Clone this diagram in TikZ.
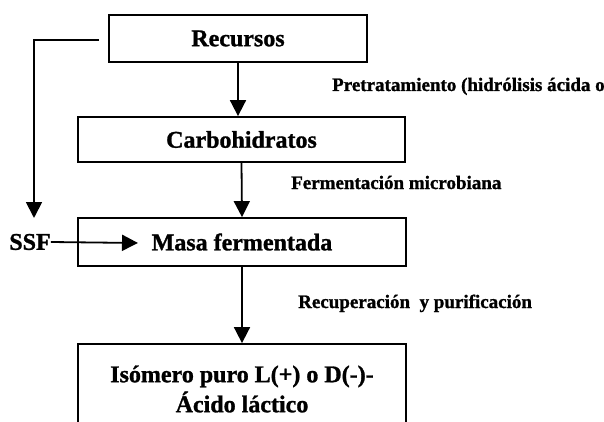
\documentclass[tikz,border=0pt]{standalone}
\usepackage{fontspec}
\setmainfont{Liberation Serif}[BoldFeatures={FakeBold=1.2}]
\usetikzlibrary{arrows.meta}
\tikzset{
  caja/.style={draw, line width=1.8pt, inner sep=0pt, align=center,
    font=\fontsize{24}{30}\selectfont\bfseries},
  flecha/.style={line width=1.8pt, -{Triangle[length=16pt,width=16pt]}},
  etiqueta/.style={inner sep=0pt, anchor=base west,
    font=\fontsize{19}{22}\selectfont\bfseries}
}

\begin{document}
\begin{tikzpicture}[x=1pt,y=-1pt]
\useasboundingbox (0,0) rectangle (604,422);
\clip (0,0) rectangle (604,422);
\node[caja, minimum width=258, minimum height=47] (rec) at (238,38.5) {Recursos};
\node[caja, minimum width=327, minimum height=45] (carb) at (241.5,139.5) {Carbohidratos};
\node[caja, minimum width=328, minimum height=48] (masa) at (242,242) {Masa fermentada};
\node[caja, minimum width=328, minimum height=90] (iso) at (242,389) {Isómero puro L(+) o D(-)-\\Ácido láctico};
\node[inner sep=0pt, font=\fontsize{24}{30}\selectfont\bfseries] (ssf) at (30,242) {SSF};
\coordinate (bajada) at (34,218);
\coordinate (entrada) at (138,243);
\draw[flecha] (rec.south) -- (rec.south |- carb.north);
\draw[flecha] (carb.south) -- (masa.north);
\draw[flecha] (masa.south) -- (iso.north);
\draw[flecha] ([xshift=-9pt,yshift=-1.5pt]rec.west) -| (bajada);
\draw[flecha] (ssf.east) -- (entrada);
\node[etiqueta] (pret) at (332,91) {Pretratamiento (hidrólisis ácida o};
\node[etiqueta] (ferm) at (291,189) {Fermentación microbiana};
\node[etiqueta] (recup) at (298,308) {Recuperación\ \ y purificación};
\end{tikzpicture}
\end{document}
